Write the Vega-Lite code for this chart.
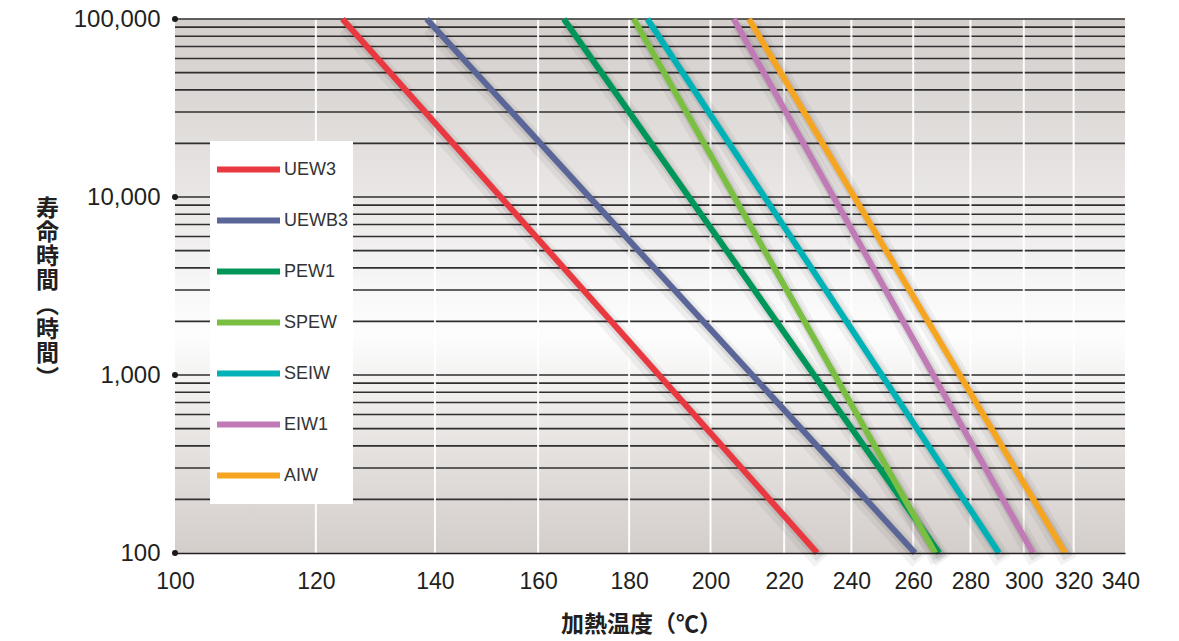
{
  "$schema": "https://vega.github.io/schema/vega-lite/v6.json",
  "width": 950,
  "height": 534,
  "autosize": {"type": "none"},
  "padding": {"left": 175, "top": 19, "right": 54, "bottom": 88},
  "background": "white",
  "config": {"view": {"stroke": null}},
  "datasets": {
    "curves": [
      {"material": "UEW3", "temp": 124.2, "hours": 100000},
      {"material": "UEW3", "temp": 229.6, "hours": 100},
      {"material": "UEWB3", "temp": 138.5, "hours": 100000},
      {"material": "UEWB3", "temp": 260.6, "hours": 100},
      {"material": "PEW1", "temp": 165.4, "hours": 100000},
      {"material": "PEW1", "temp": 268.9, "hours": 100},
      {"material": "SPEW", "temp": 181.1, "hours": 100000},
      {"material": "SPEW", "temp": 267.5, "hours": 100},
      {"material": "SEIW", "temp": 184.3, "hours": 100000},
      {"material": "SEIW", "temp": 290.5, "hours": 100},
      {"material": "EIW1", "temp": 206.1, "hours": 100000},
      {"material": "EIW1", "temp": 303.6, "hours": 100},
      {"material": "AIW", "temp": 210.2, "hours": 100000},
      {"material": "AIW", "temp": 316.5, "hours": 100}
    ],
    "hgrid": [
      {"hours": 200}, {"hours": 300}, {"hours": 400}, {"hours": 500}, {"hours": 600}, {"hours": 700}, {"hours": 800}, {"hours": 900},
      {"hours": 1000}, {"hours": 2000}, {"hours": 3000}, {"hours": 4000}, {"hours": 5000}, {"hours": 6000}, {"hours": 7000}, {"hours": 8000}, {"hours": 9000},
      {"hours": 10000}, {"hours": 20000}, {"hours": 30000}, {"hours": 40000}, {"hours": 50000}, {"hours": 60000}, {"hours": 70000}, {"hours": 80000}, {"hours": 90000}
    ],
    "vgrid": [
      {"temp": 120}, {"temp": 140}, {"temp": 160}, {"temp": 180}, {"temp": 200}, {"temp": 220},
      {"temp": 240}, {"temp": 260}, {"temp": 280}, {"temp": 300}, {"temp": 320}
    ],
    "decades": [{"hours": 100}, {"hours": 1000}, {"hours": 10000}, {"hours": 100000}]
  },
  "layer": [
    {
      "data": {"values": [{}]},
      "mark": {
        "type": "rect",
        "fill": {
          "gradient": "linear", "x1": 0, "y1": 0, "x2": 0, "y2": 1,
          "stops": [
            {"offset": 0, "color": "#d5cfcc"},
            {"offset": 0.15, "color": "#dcd8d6"},
            {"offset": 0.34, "color": "#eae7e6"},
            {"offset": 0.5, "color": "#f7f7f7"},
            {"offset": 0.59, "color": "#fdfdfd"},
            {"offset": 0.68, "color": "#f3f2f1"},
            {"offset": 0.82, "color": "#e4e0de"},
            {"offset": 1, "color": "#d4cecb"}
          ]
        }
      },
      "encoding": {
        "x": {"datum": 100, "type": "quantitative", "scale": {"type": "log", "domain": [100, 342], "nice": false}},
        "x2": {"datum": 342},
        "y": {"datum": 100000, "type": "quantitative", "scale": {"type": "log", "domain": [100, 100000], "nice": false}},
        "y2": {"datum": 100}
      }
    },
    {
      "data": {"name": "hgrid"},
      "mark": {"type": "rule", "color": "#2f2f2f", "strokeWidth": 1.6},
      "encoding": {"y": {"field": "hours", "type": "quantitative"}}
    },
    {
      "data": {"name": "vgrid"},
      "mark": {"type": "rule", "color": "#ffffff", "strokeWidth": 2, "opacity": 0.95},
      "encoding": {"x": {"field": "temp", "type": "quantitative"}}
    },
    {
      "data": {"values": [{}]},
      "mark": {"type": "rule", "color": "#2f2f2f", "strokeWidth": 1.6},
      "encoding": {"y": {"datum": 100000, "type": "quantitative"}}
    },
    {
      "data": {"name": "curves"},
      "mark": {"type": "line", "stroke": "#000000", "strokeWidth": 18, "opacity": 0.05, "xOffset": 4, "yOffset": 8, "strokeCap": "butt"},
      "encoding": {
        "x": {"field": "temp", "type": "quantitative"},
        "y": {"field": "hours", "type": "quantitative"},
        "detail": {"field": "material"}
      }
    },
    {
      "data": {"name": "curves"},
      "mark": {"type": "line", "stroke": "#000000", "strokeWidth": 10, "opacity": 0.08, "xOffset": 3, "yOffset": 5, "strokeCap": "butt"},
      "encoding": {
        "x": {"field": "temp", "type": "quantitative"},
        "y": {"field": "hours", "type": "quantitative"},
        "detail": {"field": "material"}
      }
    },
    {
      "data": {"name": "curves"},
      "mark": {"type": "line", "strokeWidth": 6, "strokeCap": "butt"},
      "encoding": {
        "x": {
          "field": "temp", "type": "quantitative",
          "scale": {"type": "log", "domain": [100, 342], "nice": false},
          "axis": {
            "values": [100, 120, 140, 160, 180, 200, 220, 240, 260, 280, 300, 320, 340],
            "format": "d",
            "labelFont": "Liberation Sans", "labelFontSize": 23, "labelColor": "#231f20",
            "labelOverlap": false, "labelFlush": false,
            "ticks": false, "grid": false,
            "domain": true, "domainColor": "#231f20", "domainWidth": 1.5,
            "labelPadding": 17, "zindex": 1,
            "title": "加熱温度（℃）",
            "titleFont": "Noto Sans CJK JP", "titleFontSize": 23, "titleFontWeight": "bold", "titleColor": "#231f20",
            "titleX": 466, "titleY": 78, "titleAlign": "center", "titleBaseline": "alphabetic"
          }
        },
        "y": {
          "field": "hours", "type": "quantitative",
          "scale": {"type": "log", "domain": [100, 100000], "nice": false},
          "axis": {
            "values": [100, 1000, 10000, 100000],
            "format": ",d",
            "labelFont": "Liberation Sans", "labelFontSize": 24, "labelColor": "#231f20",
            "ticks": false, "grid": false, "domain": false,
            "labelPadding": 15, "zindex": 1,
            "title": ["寿", "命", "時", "間", "︵", "時", "間", "︶"],
            "titleFont": "Noto Sans CJK JP", "titleFontSize": 23, "titleFontWeight": "bold", "titleColor": "#231f20",
            "titleAngle": 0, "titleAlign": "center", "titleBaseline": "top", "titleLineHeight": 24.3,
            "titleX": -128, "titleY": 178
          }
        },
        "color": {
          "field": "material", "type": "nominal",
          "scale": {
            "domain": ["UEW3", "UEWB3", "PEW1", "SPEW", "SEIW", "EIW1", "AIW"],
            "range": ["#e9383f", "#5a6598", "#00965a", "#7bbf42", "#00b2b5", "#c07ab5", "#f6a521"]
          },
          "legend": {
            "title": null,
            "orient": "none", "legendX": 35, "legendY": 122,
            "fillColor": "#ffffff", "padding": 4,
            "symbolType": "stroke", "symbolSize": 3969, "symbolStrokeWidth": 6,
            "symbolOffset": 0, "labelOffset": 1,
            "clipHeight": 49, "rowPadding": 2,
            "labelFont": "Liberation Sans", "labelFontSize": 18, "labelColor": "#333333"
          }
        }
      }
    },
    {
      "data": {"name": "decades"},
      "mark": {"type": "point", "filled": true, "color": "#1a1a1a", "size": 36, "opacity": 1},
      "encoding": {
        "x": {"datum": 100, "type": "quantitative"},
        "y": {"field": "hours", "type": "quantitative"}
      }
    }
  ]
}
